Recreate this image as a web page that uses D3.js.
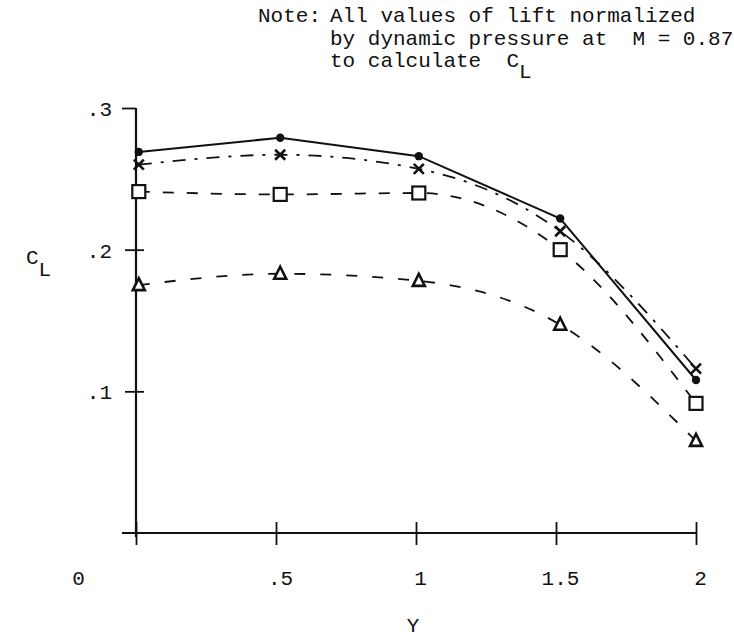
<!DOCTYPE html>
<html><head><meta charset="utf-8">
<script src="https://cdn.jsdelivr.net/npm/d3@7"></script>
<style>
html,body{margin:0;padding:0;background:#fff;}
text{font-family:"Liberation Mono","DejaVu Sans Mono",monospace;fill:#111;white-space:pre;}
</style></head>
<body>
<svg id="chart" width="734" height="642"></svg>
<script>
// Data
const yStations = [0.01, 0.515, 1.01, 1.515, 2.0];
const clCircle   = [0.269, 0.279, 0.266, 0.222, 0.108];
const clCross    = [0.260, 0.267, 0.257, 0.213, 0.116];
const clSquare   = [0.241, 0.239, 0.240, 0.200, 0.0915];
const clTriangle = [0.175, 0.183, 0.178, 0.147, 0.065];
const xTicks = [0, 0.5, 1, 1.5, 2];
const xTickLabels = ["0", ".5", "1", "1.5", "2"];
const yTicks = [0.1, 0.2, 0.3];
const yTickLabels = [".1", ".2", ".3"];
const noteLines = ["All values of lift normalized", "by dynamic pressure at  M = 0.87", "to calculate  C"];

const svg = d3.select("#chart");
const x = d3.scaleLinear().domain([0, 2]).range([136, 696]);
const y = d3.scaleLinear().domain([0, 0.3]).range([533, 108]);
const ink = "#111";

// Axes
const xAxis = svg.append("g").attr("transform", `translate(0,${y(0)})`)
  .call(d3.axisBottom(x).tickValues(xTicks).tickSize(0).tickFormat(""));
xAxis.select(".domain").attr("d", `M${x(0)-14},0H${x(2)}`).attr("stroke", ink).attr("stroke-width", 2.2);
xAxis.selectAll(".tick").append("line").attr("y1", -11).attr("y2", 12).attr("stroke", ink).attr("stroke-width", 1.8);
xAxis.selectAll(".tick").append("text")
  .attr("x", (d, i) => i === 0 ? -58 : 4)
  .attr("y", 52).attr("text-anchor", "middle").attr("font-size", 21)
  .text((d, i) => xTickLabels[i]);

const yAxis = svg.append("g").attr("transform", `translate(${x(0)},0)`)
  .call(d3.axisLeft(y).tickValues(yTicks).tickSize(0).tickFormat(""));
yAxis.select(".domain").attr("d", `M0,${y(0.3)}V${y(0)+4}`).attr("stroke", ink).attr("stroke-width", 2.2);
yAxis.selectAll(".tick").append("line")
  .attr("x1", d => d === 0.3 ? -14 : -11).attr("x2", d => d === 0.3 ? 0 : 8)
  .attr("stroke", ink).attr("stroke-width", 1.8);
yAxis.selectAll(".tick").append("text")
  .attr("x", -24).attr("dy", "0.35em").attr("text-anchor", "end").attr("font-size", 21)
  .text((d, i) => yTickLabels[i]);

// Axis titles
svg.append("text").attr("x", 413).attr("y", 632).attr("text-anchor", "middle").attr("font-size", 21).text("Y");
const cl = svg.append("text").attr("x", 26).attr("y", 264).attr("font-size", 21);
cl.append("tspan").text("C");
cl.append("tspan").attr("dy", 12).attr("font-size", 21).text("L");

// Note
svg.append("text").attr("x", 258).attr("y", 22).attr("font-size", 21).text("Note:");
noteLines.forEach((t, i) => {
  const tx = svg.append("text").attr("x", 330).attr("y", 22 + i * 22.5).attr("font-size", 21);
  tx.append("tspan").text(t);
  if (i === 2) tx.append("tspan").attr("dy", 11).text("L");
});

// Series lines
const pts = vals => yStations.map((s, i) => [x(s), y(vals[i])]);
const lineLin = d3.line();
const lineCurve = d3.line().curve(d3.curveMonotoneX);
svg.append("path").attr("d", lineLin(pts(clCircle))).attr("fill", "none").attr("stroke", ink).attr("stroke-width", 2);
svg.append("path").attr("d", lineCurve(pts(clCross))).attr("fill", "none").attr("stroke", ink).attr("stroke-width", 1.8).attr("stroke-dasharray", "13,9,3,9");
svg.append("path").attr("d", lineCurve(pts(clSquare))).attr("fill", "none").attr("stroke", ink).attr("stroke-width", 1.8).attr("stroke-dasharray", "11,13");
svg.append("path").attr("d", lineCurve(pts(clTriangle))).attr("fill", "none").attr("stroke", ink).attr("stroke-width", 1.8).attr("stroke-dasharray", "11,15");

// Markers
svg.append("g").selectAll("circle").data(pts(clCircle)).join("circle")
  .attr("cx", d => d[0]).attr("cy", d => d[1]).attr("r", 4.2).attr("fill", ink);
svg.append("g").selectAll("path").data(pts(clCross)).join("path")
  .attr("d", d => `M${d[0]-5},${d[1]-5}L${d[0]+5},${d[1]+5}M${d[0]-5},${d[1]+5}L${d[0]+5},${d[1]-5}`)
  .attr("stroke", ink).attr("stroke-width", 2.6);
svg.append("g").selectAll("rect").data(pts(clSquare)).join("rect")
  .attr("x", d => d[0]-6.5).attr("y", d => d[1]-6.5).attr("width", 13).attr("height", 13)
  .attr("fill", "#fff").attr("stroke", ink).attr("stroke-width", 2.2);
svg.append("g").selectAll("path").data(pts(clTriangle)).join("path")
  .attr("d", d => `M${d[0]},${d[1]-7}L${d[0]+6},${d[1]+5}L${d[0]-6},${d[1]+5}Z`)
  .attr("fill", "#fff").attr("stroke", ink).attr("stroke-width", 2.6);
</script>
</body></html>
